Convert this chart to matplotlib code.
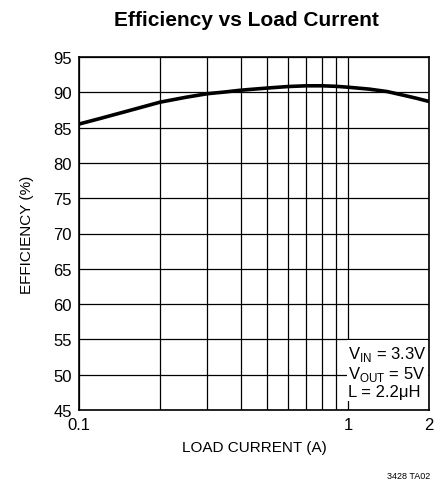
import matplotlib
matplotlib.use("Agg")
import matplotlib.pyplot as plt
from matplotlib.ticker import FixedLocator, NullFormatter

plt.rcParams['font.family'] = ['Liberation Sans Narrow', 'Liberation Sans', 'DejaVu Sans']

# Efficiency curve
load_current = [0.1, 0.12, 0.15, 0.2, 0.25, 0.3, 0.35, 0.4, 0.5, 0.6, 0.7, 0.8,
                0.9, 1.0, 1.2, 1.4, 1.6, 1.8, 2.0]
efficiency = [85.5, 86.3, 87.3, 88.6, 89.3, 89.8, 90.05, 90.3, 90.6, 90.82, 90.92, 90.92,
              90.85, 90.72, 90.45, 90.1, 89.6, 89.15, 88.7]

y_ticks = [45, 50, 55, 60, 65, 70, 75, 80, 85, 90, 95]
x_ticks = [0.1, 1, 2]
x_tick_labels = ['0.1', '1', '2']
x_minor = [0.2, 0.3, 0.4, 0.5, 0.6, 0.7, 0.8, 0.9]

fig = plt.figure(figsize=(4.37, 4.85), dpi=100)
ax = fig.add_axes([79 / 437, 74 / 485, 350 / 437, 353 / 485])

ax.plot(load_current, efficiency, color='black', linewidth=2.6,
        solid_joinstyle='round')

ax.set_xscale('log')
ax.set_xlim(0.1, 2)
ax.set_ylim(45, 95)
ax.xaxis.set_major_locator(FixedLocator(x_ticks))
ax.xaxis.set_minor_locator(FixedLocator(x_minor))
ax.xaxis.set_minor_formatter(NullFormatter())
ax.set_xticklabels(x_tick_labels)
ax.set_yticks(y_ticks)
ax.grid(True, which='both', color='black', linewidth=0.9)
ax.tick_params(which='both', length=0, labelsize=12, pad=5)
for s in ax.spines.values():
    s.set_linewidth(1.2)

ax.set_xlabel('LOAD CURRENT (A)', fontsize=11, labelpad=6)
ax.set_ylabel('EFFICIENCY (%)', fontsize=11, labelpad=14)

ax.text(0.77, 0.03,
        'V$_\\mathregular{IN}$ = 3.3V\nV$_\\mathregular{OUT}$ = 5V\nL = 2.2\u03bcH',
        transform=ax.transAxes, ha='left', va='bottom', fontsize=12,
        linespacing=1.1, multialignment='left',
        bbox=dict(facecolor='white', edgecolor='none', pad=1))

fig.text(0.563, 0.958, 'Efficiency vs Load Current', ha='center', va='center',
         fontsize=15, fontweight='bold')
fig.text(0.985, 0.008, '3428 TA02', ha='right', va='bottom', fontsize=6.5)

fig.savefig('out.png', dpi=100)
